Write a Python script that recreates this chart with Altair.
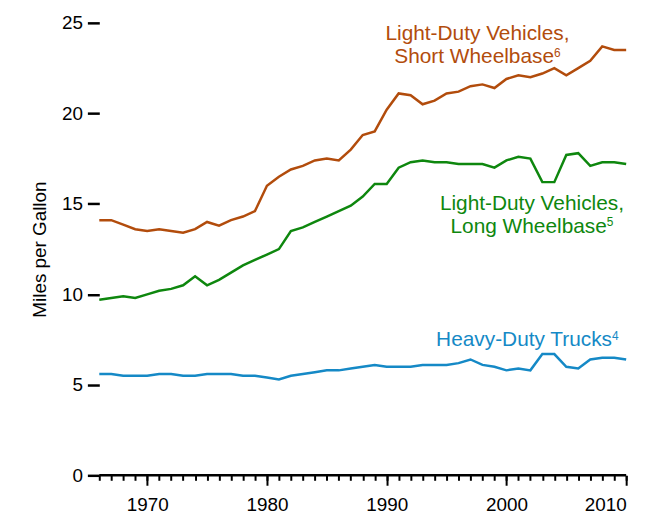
import altair as alt
import pandas as pd

years = list(range(1966, 2011))

short_wb = [14.1, 14.1, 13.85, 13.6, 13.5, 13.6, 13.5, 13.4, 13.6, 14.0,
            13.8, 14.1, 14.3, 14.6, 16.0, 16.5, 16.9, 17.1, 17.4, 17.5,
            17.4, 18.0, 18.8, 19.0, 20.2, 21.1, 21.0, 20.5, 20.7, 21.1,
            21.2, 21.5, 21.6, 21.4, 21.9, 22.1, 22.0, 22.2, 22.5, 22.1,
            22.5, 22.9, 23.7, 23.5, 23.5]

long_wb = [9.7, 9.8, 9.9, 9.8, 10.0, 10.2, 10.3, 10.5, 11.0, 10.5,
           10.8, 11.2, 11.6, 11.9, 12.2, 12.5, 13.5, 13.7, 14.0, 14.3,
           14.6, 14.9, 15.4, 16.1, 16.1, 17.0, 17.3, 17.4, 17.3, 17.3,
           17.2, 17.2, 17.2, 17.0, 17.4, 17.6, 17.5, 16.2, 16.2, 17.7,
           17.8, 17.1, 17.3, 17.3, 17.2]

heavy = [5.6, 5.6, 5.5, 5.5, 5.5, 5.6, 5.6, 5.5, 5.5, 5.6,
         5.6, 5.6, 5.5, 5.5, 5.4, 5.3, 5.5, 5.6, 5.7, 5.8,
         5.8, 5.9, 6.0, 6.1, 6.0, 6.0, 6.0, 6.1, 6.1, 6.1,
         6.2, 6.4, 6.1, 6.0, 5.8, 5.9, 5.8, 6.7, 6.7, 6.0,
         5.9, 6.4, 6.5, 6.5, 6.4]

series_names = ["short", "long", "heavy"]
series_colors = ["#B24C0C", "#0E870E", "#1589C6"]

label_lines = [["Light-Duty Vehicles,", "Short Wheelbase"],
               ["Light-Duty Vehicles,", "Long Wheelbase"],
               ["Heavy-Duty Trucks"]]
label_sups = ["6", "5", "4"]
label_x = [1997.58, 2002.13, 2001.70]
label_y = [24.05, 14.68, 7.14]

major_ticks = [1970, 1980, 1990, 2000, 2010]
y_ticks = [0, 5, 10, 15, 20, 25]

FONT = "Liberation Sans"
W, H = 531, 456
X0, X1 = 1966, 2010
Y0, Y1 = 0, 25
FS, SUP_FS, LINE_H, SUP_RAISE = 21, 12, 23.4, 6.5

# Arial / Liberation Sans advance widths (per 1000 em), for text measuring
ADV = {"L": 556, "i": 222, "g": 556, "h": 556, "t": 278, "-": 333, "D": 722,
       "u": 556, "y": 500, " ": 278, "V": 667, "e": 556, "c": 500, "l": 222,
       "s": 500, ",": 278, "S": 667, "o": 556, "r": 333, "W": 944, "b": 556,
       "a": 556, "n": 556, "H": 722, "v": 500, "T": 611, "k": 500}


def text_w(s, size):
    return sum(ADV.get(ch, 556) for ch in s) * size / 1000.0


px_year = W / (X1 - X0)
px_mpg = H / (Y1 - Y0)

rows = []
for name, vals in zip(series_names, [short_wb, long_wb, heavy]):
    for yr, v in zip(years, vals):
        rows.append({"year": yr, "mpg": v, "series": name})
df = pd.DataFrame(rows)

center_rows, right_rows, sup_rows = [], [], []
for name, lines, sup, lx, ly in zip(series_names, label_lines, label_sups,
                                    label_x, label_y):
    ws = text_w(sup, SUP_FS)
    for i, line in enumerate(lines):
        yy = ly - i * LINE_H / px_mpg
        if i < len(lines) - 1:
            center_rows.append({"year": lx, "mpg": yy, "text": line, "series": name})
        else:
            wl = text_w(line, FS)
            xe = lx + (wl - ws) / 2 / px_year
            right_rows.append({"year": xe, "mpg": yy, "text": line, "series": name})
            sup_rows.append({"year": xe, "mpg": yy + SUP_RAISE / px_mpg,
                             "text": sup, "series": name})

xscale = alt.Scale(domain=[X0, X1], nice=False, zero=False)
yscale = alt.Scale(domain=[Y0, Y1], nice=False)
cscale = alt.Scale(domain=series_names, range=series_colors)

x_axis = alt.Axis(values=major_ticks, format="d", title=None, grid=False,
                  tickSize=10, tickWidth=2, tickColor="black",
                  domain=False,
                  labelFont=FONT, labelFontSize=19, labelColor="black",
                  labelPadding=10, orient="bottom")
x_minor = alt.Axis(values=years, labels=False, title=None, grid=False,
                   tickSize=5, tickWidth=2, tickColor="black",
                   domain=False, orient="bottom")
y_axis = alt.Axis(values=y_ticks, title="Miles per Gallon", grid=False,
                  domain=False, tickSize=12, tickWidth=2.5, tickColor="black",
                  labelFont=FONT, labelFontSize=19, labelColor="black",
                  labelPadding=5, titleFont=FONT, titleFontSize=19,
                  titleFontWeight="normal", titleColor="black", titlePadding=12)

lines_layer = alt.Chart(df).mark_line(strokeWidth=2.5).encode(
    x=alt.X("year:Q", scale=xscale, axis=x_axis),
    y=alt.Y("mpg:Q", scale=yscale, axis=y_axis),
    color=alt.Color("series:N", scale=cscale, legend=None),
)

# x-axis baseline along y = 0, from the first to the last year
baseline = alt.Chart(pd.DataFrame({"a": [X0], "b": [X1], "z": [Y0]})).mark_rule(
    color="black", strokeWidth=2.5
).encode(
    x=alt.X("a:Q", scale=xscale, axis=x_axis),
    x2="b:Q",
    y=alt.Y("z:Q", scale=yscale, axis=y_axis),
)

minor = alt.Chart(pd.DataFrame({"year": years})).mark_point(opacity=0).encode(
    x=alt.X("year:Q", scale=xscale, axis=x_minor),
)


def text_layer(data, align, size):
    return alt.Chart(pd.DataFrame(data)).mark_text(
        font=FONT, fontSize=size, align=align, baseline="alphabetic",
    ).encode(
        x=alt.X("year:Q", scale=xscale, axis=x_axis),
        y=alt.Y("mpg:Q", scale=yscale, axis=y_axis),
        text="text:N",
        color=alt.Color("series:N", scale=cscale, legend=None),
    )


t_center = text_layer(center_rows, "center", FS)
t_right = text_layer(right_rows, "right", FS)
t_sup = text_layer(sup_rows, "left", SUP_FS)

inner = alt.layer(lines_layer, baseline, t_center, t_right, t_sup)

chart = alt.layer(inner, minor).resolve_axis(
    x="independent"
).properties(
    width=W, height=H,
    padding={"left": 92, "top": 13, "right": 22, "bottom": 37},
    autosize="none",
    background="white",
).configure_view(stroke=None)

chart.save("out.html", embed_options={"renderer": "svg", "actions": False})
